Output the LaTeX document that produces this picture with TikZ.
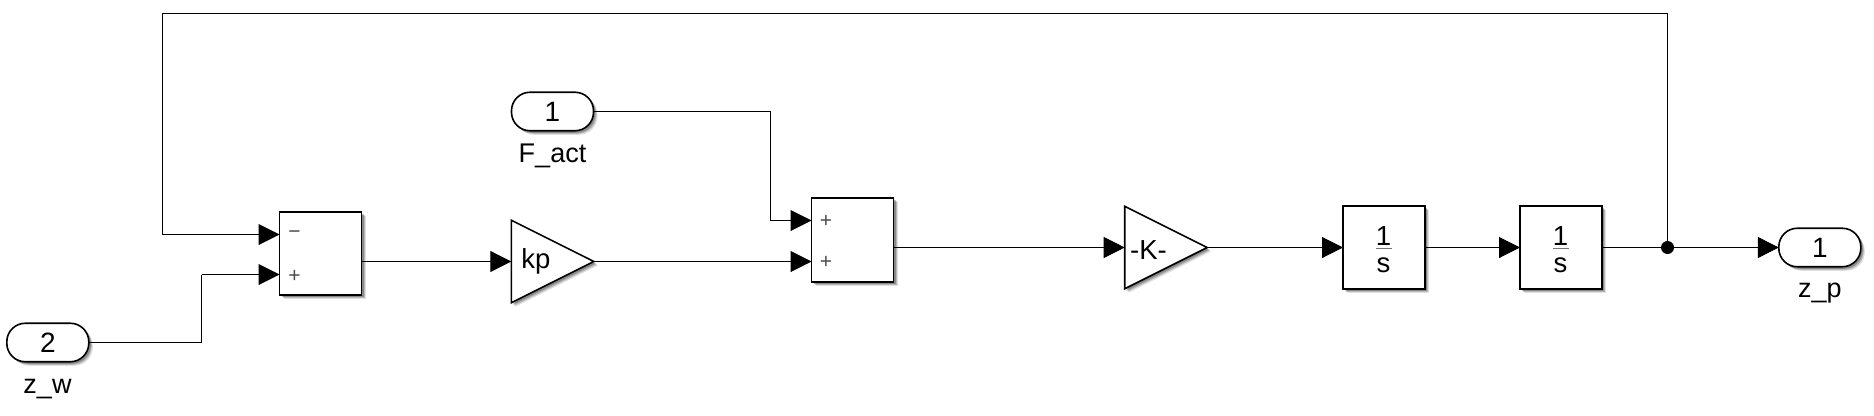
\documentclass[tikz,border=0pt]{standalone}
\usepackage{fontspec}
\setmainfont{Liberation Sans}
\usetikzlibrary{arrows.meta,shapes.geometric,shadows}
\tikzset{
  softshadow/.style={
    general shadow={shadow xshift=4pt,shadow yshift=-4pt,fill=black,opacity=0.12},
    general shadow={shadow xshift=3pt,shadow yshift=-3pt,fill=black,opacity=0.18},
    general shadow={shadow xshift=2pt,shadow yshift=-2pt,fill=black,opacity=0.25}},
  blockbox/.style={draw=black,line width=1.8pt,fill=white,rectangle,inner sep=0pt,outer sep=0pt,
    minimum width=82pt,minimum height=83pt,softshadow},
  portbox/.style={draw=black,line width=1.6pt,fill=white,rectangle,rounded corners=18.5pt,inner sep=0pt,outer sep=0pt,
    minimum width=82pt,minimum height=38.5pt,font=\fontsize{28}{28}\selectfont,softshadow},
  gainbox/.style={draw=black,line width=1.6pt,fill=white,isosceles triangle,isosceles triangle stretches,
    inner sep=0pt,outer sep=0pt,minimum width=82.5pt,minimum height=82.5pt,anchor=lower side,softshadow},
  wire/.style={draw=black,line width=1pt},
  arrowwire/.style={wire,-{Triangle[length=21pt,width=21pt]}},
  sometext/.style={inner sep=0pt,font=\fontsize{27.5}{27.5}\selectfont},
  nametext/.style={inner sep=0pt,font=\fontsize{27}{27}\selectfont},
  signtext/.style={inner sep=0pt,text=black!70,font=\fontsize{21}{21}\selectfont},
  fracbar/.style={draw=black!55,line width=1.2pt},
  dotnode/.style={circle,fill=black,inner sep=0pt,outer sep=0pt,minimum size=13pt},
}
\begin{document}
\begin{tikzpicture}[x=1pt,y=-1pt]
\useasboundingbox (0,0) rectangle (1874,415);
% blocks
\node[portbox] (p2) at (47.8,342.5) {2};
\node[nametext] (p2n) at (47.5,389) {z\_w};
\node[portbox] (p1) at (552.5,111.5) {1};
\node[nametext] (p1n) at (552.5,155.5) {F\_act};
\node[blockbox] (sum1) at (320.5,253.8) {};
\node[signtext] (s1a) at (294.6,234.5) {\char"2212};
\node[signtext] (s1b) at (294.6,276.5) {+};
\node[gainbox] (kp) at (511.3,261.5) {};
\node[sometext] (kpt) at (536,261.5) {kp};
\node[blockbox,minimum height=84pt] (sum2) at (852.5,240) {};
\node[signtext] (s2a) at (826,221.5) {+};
\node[signtext] (s2b) at (826,262) {+};
\node[gainbox] (gk) at (1124.7,247.5) {};
\node[sometext] (gkt) at (1148.5,250) {-K-};
\node[blockbox] (i1) at (1384,247.5) {};
\node[sometext] (i1a) at (1383.5,236.5) {1};
\node[sometext] (i1b) at (1383.5,265) {s};
\draw[fracbar] ([xshift=-8pt]i1.center) ++(0,1.2) -- ++(16,0);
\node[blockbox] (i2) at (1561,247.5) {};
\node[sometext] (i2a) at (1560.5,236.5) {1};
\node[sometext] (i2b) at (1560.5,265) {s};
\draw[fracbar] ([xshift=-8pt]i2.center) ++(0,1.2) -- ++(16,0);
\node[portbox] (po) at (1819.8,247.5) {1};
\node[nametext] (pon) at (1819.8,293) {z\_p};
\node[dotnode] (j) at (1667.5,247.5) {};
% connector points
\coordinate (t1) at (1667.5,13.5);
\coordinate (t2) at (162.5,13.5);
\coordinate (t3) at (162.5,234.5);
\coordinate (in1a) at (sum1.west |- t3);
\coordinate (w1) at (201.5,342.5);
\coordinate (w2) at (201.5,274.5);
\coordinate (in1b) at (sum1.west |- w2);
\coordinate (w3) at (770.5,111.5);
\coordinate (w4) at (770.5,220.5);
\coordinate (in2a) at (sum2.west |- w4);
\coordinate (in2b) at (sum2.west |- kp.apex);
% connectors
\draw[wire] (j) -- (t1) -- (t2) -- (t3);
\draw[arrowwire] (t3) -- (in1a);
\draw[wire] (p2.east) -- (w1) -- (w2);
\draw[arrowwire] (w2) -- (in1b);
\draw[arrowwire] (sum1.east |- kp.apex) -- (kp.lower side);
\draw[arrowwire] (kp.apex) -- (in2b);
\draw[wire] (p1.east) -- (w3) -- (w4);
\draw[arrowwire] (w4) -- (in2a);
\draw[arrowwire] (sum2.east |- gk.apex) -- (gk.lower side);
\draw[arrowwire] (gk.apex) -- (i1.west);
\draw[arrowwire] (i1.east) -- (i2.west);
\draw[wire] (i2.east) -- (j);
\draw[arrowwire] (j) -- (po.west);
\end{tikzpicture}
\end{document}
